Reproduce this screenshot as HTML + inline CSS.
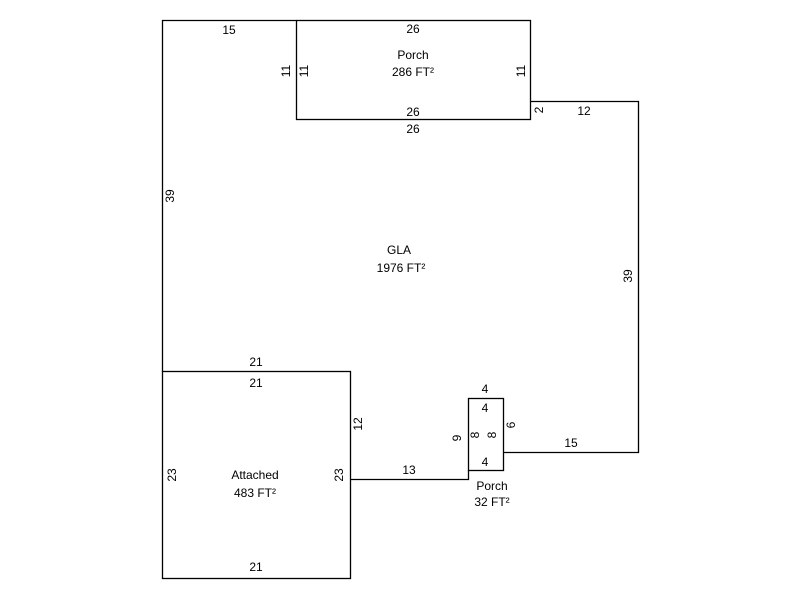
<!DOCTYPE html>
<html><head><style>body{margin:0;background:#fff}</style></head><body>
<svg width="800" height="600" xmlns="http://www.w3.org/2000/svg" font-family="Liberation Sans, Arial, sans-serif" font-size="12" fill="#000">
<g stroke="#000" stroke-width="1.3" fill="none">
<rect x="296.5" y="20.5" width="234" height="99"/>
<rect x="162.5" y="371.5" width="188" height="207"/>
<rect x="468.5" y="398.5" width="35" height="72"/>
<polyline points="296.5,20.5 162.5,20.5 162.5,371.5"/>
<polyline points="530.5,101.5 638.5,101.5 638.5,452.5 503.5,452.5"/>
<polyline points="350.5,479.5 468.5,479.5 468.5,470.5"/>
</g>
<g text-anchor="middle">
<text x="229" y="34">15</text>
<text x="413" y="33">26</text>
<text x="413" y="59">Porch</text>
<text x="413" y="76">286 FT²</text>
<text x="413" y="116">26</text>
<text x="413" y="133">26</text>
<text x="584" y="115">12</text>
<text x="399" y="254">GLA</text>
<text x="401" y="272">1976 FT²</text>
<text x="256" y="366">21</text>
<text x="256" y="387">21</text>
<text x="255" y="479">Attached</text>
<text x="255" y="497">483 FT²</text>
<text x="256" y="571">21</text>
<text x="409" y="474">13</text>
<text x="485" y="393">4</text>
<text x="485" y="412">4</text>
<text x="485" y="466">4</text>
<text x="571" y="447">15</text>
<text x="492" y="490">Porch</text>
<text x="492" y="506">32 FT²</text>
<g transform="translate(174,196) rotate(-90)"><text>39</text></g>
<g transform="translate(632,276) rotate(-90)"><text>39</text></g>
<g transform="translate(290,71) rotate(-90)"><text>11</text></g>
<g transform="translate(308,71) rotate(-90)"><text>11</text></g>
<g transform="translate(525,71) rotate(-90)"><text>11</text></g>
<g transform="translate(543,110) rotate(-90)"><text>2</text></g>
<g transform="translate(362,424) rotate(-90)"><text>12</text></g>
<g transform="translate(343,475) rotate(-90)"><text>23</text></g>
<g transform="translate(176,475) rotate(-90)"><text>23</text></g>
<g transform="translate(461,438) rotate(-90)"><text>9</text></g>
<g transform="translate(479,435) rotate(-90)"><text>8</text></g>
<g transform="translate(496,435) rotate(-90)"><text>8</text></g>
<g transform="translate(515,425) rotate(-90)"><text>6</text></g>
</g>
</svg>
</body></html>
